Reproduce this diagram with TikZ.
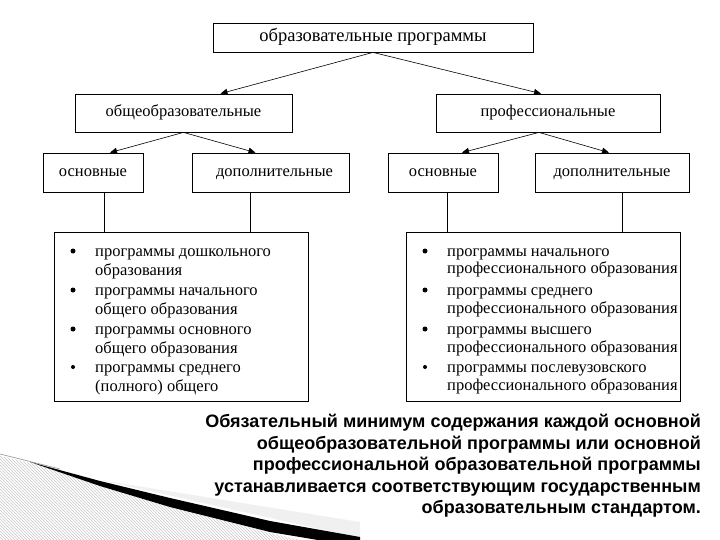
\documentclass[tikz,border=0pt]{standalone}
\usepackage{fontspec}
\setmainfont{Liberation Serif}
\newfontfamily\notefont{Liberation Sans}
\usetikzlibrary{arrows.meta,patterns}
\begin{document}
\begin{tikzpicture}[x=1pt,y=-1pt,
  box/.style={draw,line width=0.8pt,inner sep=0pt,text height=11pt,text depth=3pt,font=\fontsize{16.5}{19}\selectfont},
  arr/.style={line width=0.6pt,-{Triangle[length=7pt,width=6pt]}},
  conn/.style={line width=0.8pt},
  line/.style={anchor=base west,inner sep=0pt,font=\fontsize{16.5}{19}\selectfont},
  bul/.style={circle,fill=black,inner sep=0pt,minimum size=5pt}]
\useasboundingbox (0,0) rectangle (720,540);
% decoration bottom-left
\fill[pattern=north west lines,pattern color=gray!45] (0,456) -- (60,470) -- (100,486) -- (170,507) -- (270,533) -- (300,540) -- (0,540) -- cycle;
\fill[gray!12] (100,480) -- (360,522) -- (360,538) -- cycle;
\draw[gray!80,line width=0.7pt] (0,454) -- (60,469);
\fill[black] (30,462) -- (100,481) -- (170,498) -- (270,521) -- (360,537) -- (360,540) -- (318,540) -- (270,532) -- (170,507) -- (100,486) -- cycle;
% boxes
\node[box,minimum width=320,minimum height=29,font=\fontsize{18.5}{20}\selectfont] (top) at (373,37.5) {образовательные программы};
\node[box,minimum width=217,minimum height=38] (gen) at (183.5,113) {общеобразовательные};
\node[box,minimum width=224,minimum height=38] (prof) at (548,113) {профессиональные};
\node[box,minimum width=100,minimum height=39] (osnL) at (93,172.5) {основные};
\node[box,minimum width=157,minimum height=39] (dopL) at (270.5,172.5) {\hspace{8pt}дополнительные};
\node[box,minimum width=110,minimum height=39] (osnR) at (443,172.5) {основные};
\node[box,minimum width=154,minimum height=39] (dopR) at (612,172.5) {дополнительные};
\node[box,minimum width=254,minimum height=169] (listL) at (181,316.5) {};
\node[box,minimum width=274,minimum height=169] (listR) at (543,316.5) {};
% arrows
\draw[arr] (top.south) -- ([xshift=37pt]gen.north);
\draw[arr] (top.south) -- ([xshift=-7pt]prof.north);
\draw[arr] (gen.south) -- ([xshift=17pt]osnL.north);
\draw[arr] (gen.south) -- ([xshift=-15pt]dopL.north);
\draw[arr] ([xshift=-9pt]prof.south) -- ([xshift=19pt]osnR.north);
\draw[arr] ([xshift=-9pt]prof.south) -- ([xshift=-3pt]dopR.north);
% vertical connectors
\draw[conn] ([xshift=11pt]osnL.south) -- ([xshift=11pt]osnL.south |- listL.north);
\draw[conn] ([xshift=-20pt]dopL.south) -- ([xshift=-20pt]dopL.south |- listL.north);
\draw[conn] ([xshift=4pt]osnR.south) -- ([xshift=4pt]osnR.south |- listR.north);
\draw[conn] ([xshift=10pt]dopR.south) -- ([xshift=10pt]dopR.south |- listR.north);
% left list
\node[bul] (bL1) at (73,251) {};
\node[bul] (bL2) at (73,290) {};
\node[bul] (bL3) at (73,329) {};
\node[bul,minimum size=4pt] (bL4) at (73,367) {};
\node[line] (lL1) at (95,256) {программы дошкольного};
\node[line] (lL2) at (95,275) {образования};
\node[line] (lL3) at (95,295) {программы начального};
\node[line] (lL4) at (95,314) {общего образования};
\node[line] (lL5) at (95,334) {программы основного};
\node[line] (lL6) at (95,353) {общего образования};
\node[line] (lL7) at (95,372) {программы среднего};
\node[line] (lL8) at (95,391) {(полного) общего};
% right list
\node[bul] (bR1) at (425,251) {};
\node[bul] (bR2) at (425,290) {};
\node[bul] (bR3) at (425,329) {};
\node[bul,minimum size=4pt] (bR4) at (425,367) {};
\node[line] (lR1) at (447,256) {программы начального};
\node[line] (lR2) at (447,273) {профессионального образования};
\node[line] (lR3) at (447,295) {программы среднего};
\node[line] (lR4) at (447,313) {профессионального образования};
\node[line] (lR5) at (447,334) {программы высшего};
\node[line] (lR6) at (447,352) {профессионального образования};
\node[line] (lR7) at (447,372) {программы послевузовского};
\node[line] (lR8) at (447,390) {профессионального образования};
% note
\node[anchor=north east,align=right,inner sep=0pt,font=\notefont\bfseries\fontsize{18}{21.5}\selectfont] (note) at (701,414)
 {Обязательный минимум содержания каждой основной\\общеобразовательной программы или основной\\профессиональной образовательной программы\\устанавливается соответствующим государственным\\образовательным стандартом.};
\end{tikzpicture}
\end{document}
